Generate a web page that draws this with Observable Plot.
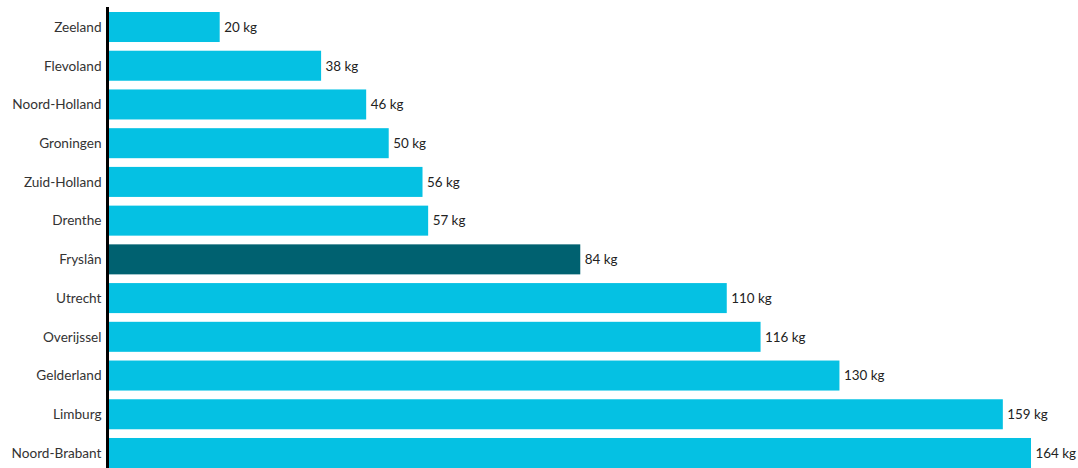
<!DOCTYPE html>
<html>
<head>
<meta charset="utf-8">
<script src="https://cdn.jsdelivr.net/npm/d3@7"></script>
<script src="https://cdn.jsdelivr.net/npm/@observablehq/plot@0.6"></script>
<style>
  html, body { margin: 0; padding: 0; background: #fff; }
  #chart svg { display: block; font-family: Lato, sans-serif; }
</style>
</head>
<body>
<div id="chart"></div>
<script>
const provinces = ["Zeeland","Flevoland","Noord-Holland","Groningen","Zuid-Holland","Drenthe","Fryslân","Utrecht","Overijssel","Gelderland","Limburg","Noord-Brabant"];
const values = [20, 38, 46, 50, 56, 57, 84, 110, 116, 130, 159, 164];
const highlight = "Fryslân";

const data = provinces.map((p, i) => ({province: p, value: values[i]}));

const chart = Plot.plot({
  width: 1078,
  height: 468,
  marginLeft: 107,
  marginRight: 47,
  marginTop: 12,
  marginBottom: 0,
  style: {fontFamily: "Lato, sans-serif", fontSize: "13.6px", color: "#333"},
  x: {domain: [0, 164], axis: null},
  y: {domain: provinces, paddingInner: 0.225, paddingOuter: 0, round: false, label: null, tickSize: 0, tickPadding: 6},
  marks: [
    Plot.barX(data, {x: "value", y: "province", fill: d => d.province === highlight ? "#006170" : "#05C1E3"}),
    Plot.text(data, {x: "value", y: "province", text: d => `${d.value} kg`, textAnchor: "start", dx: 4, fill: "#222", fontSize: 13.4}),
    Plot.ruleX([0], {stroke: "#000", strokeWidth: 3, insetTop: -5})
  ]
});
document.getElementById("chart").appendChild(chart);
</script>
</body>
</html>
